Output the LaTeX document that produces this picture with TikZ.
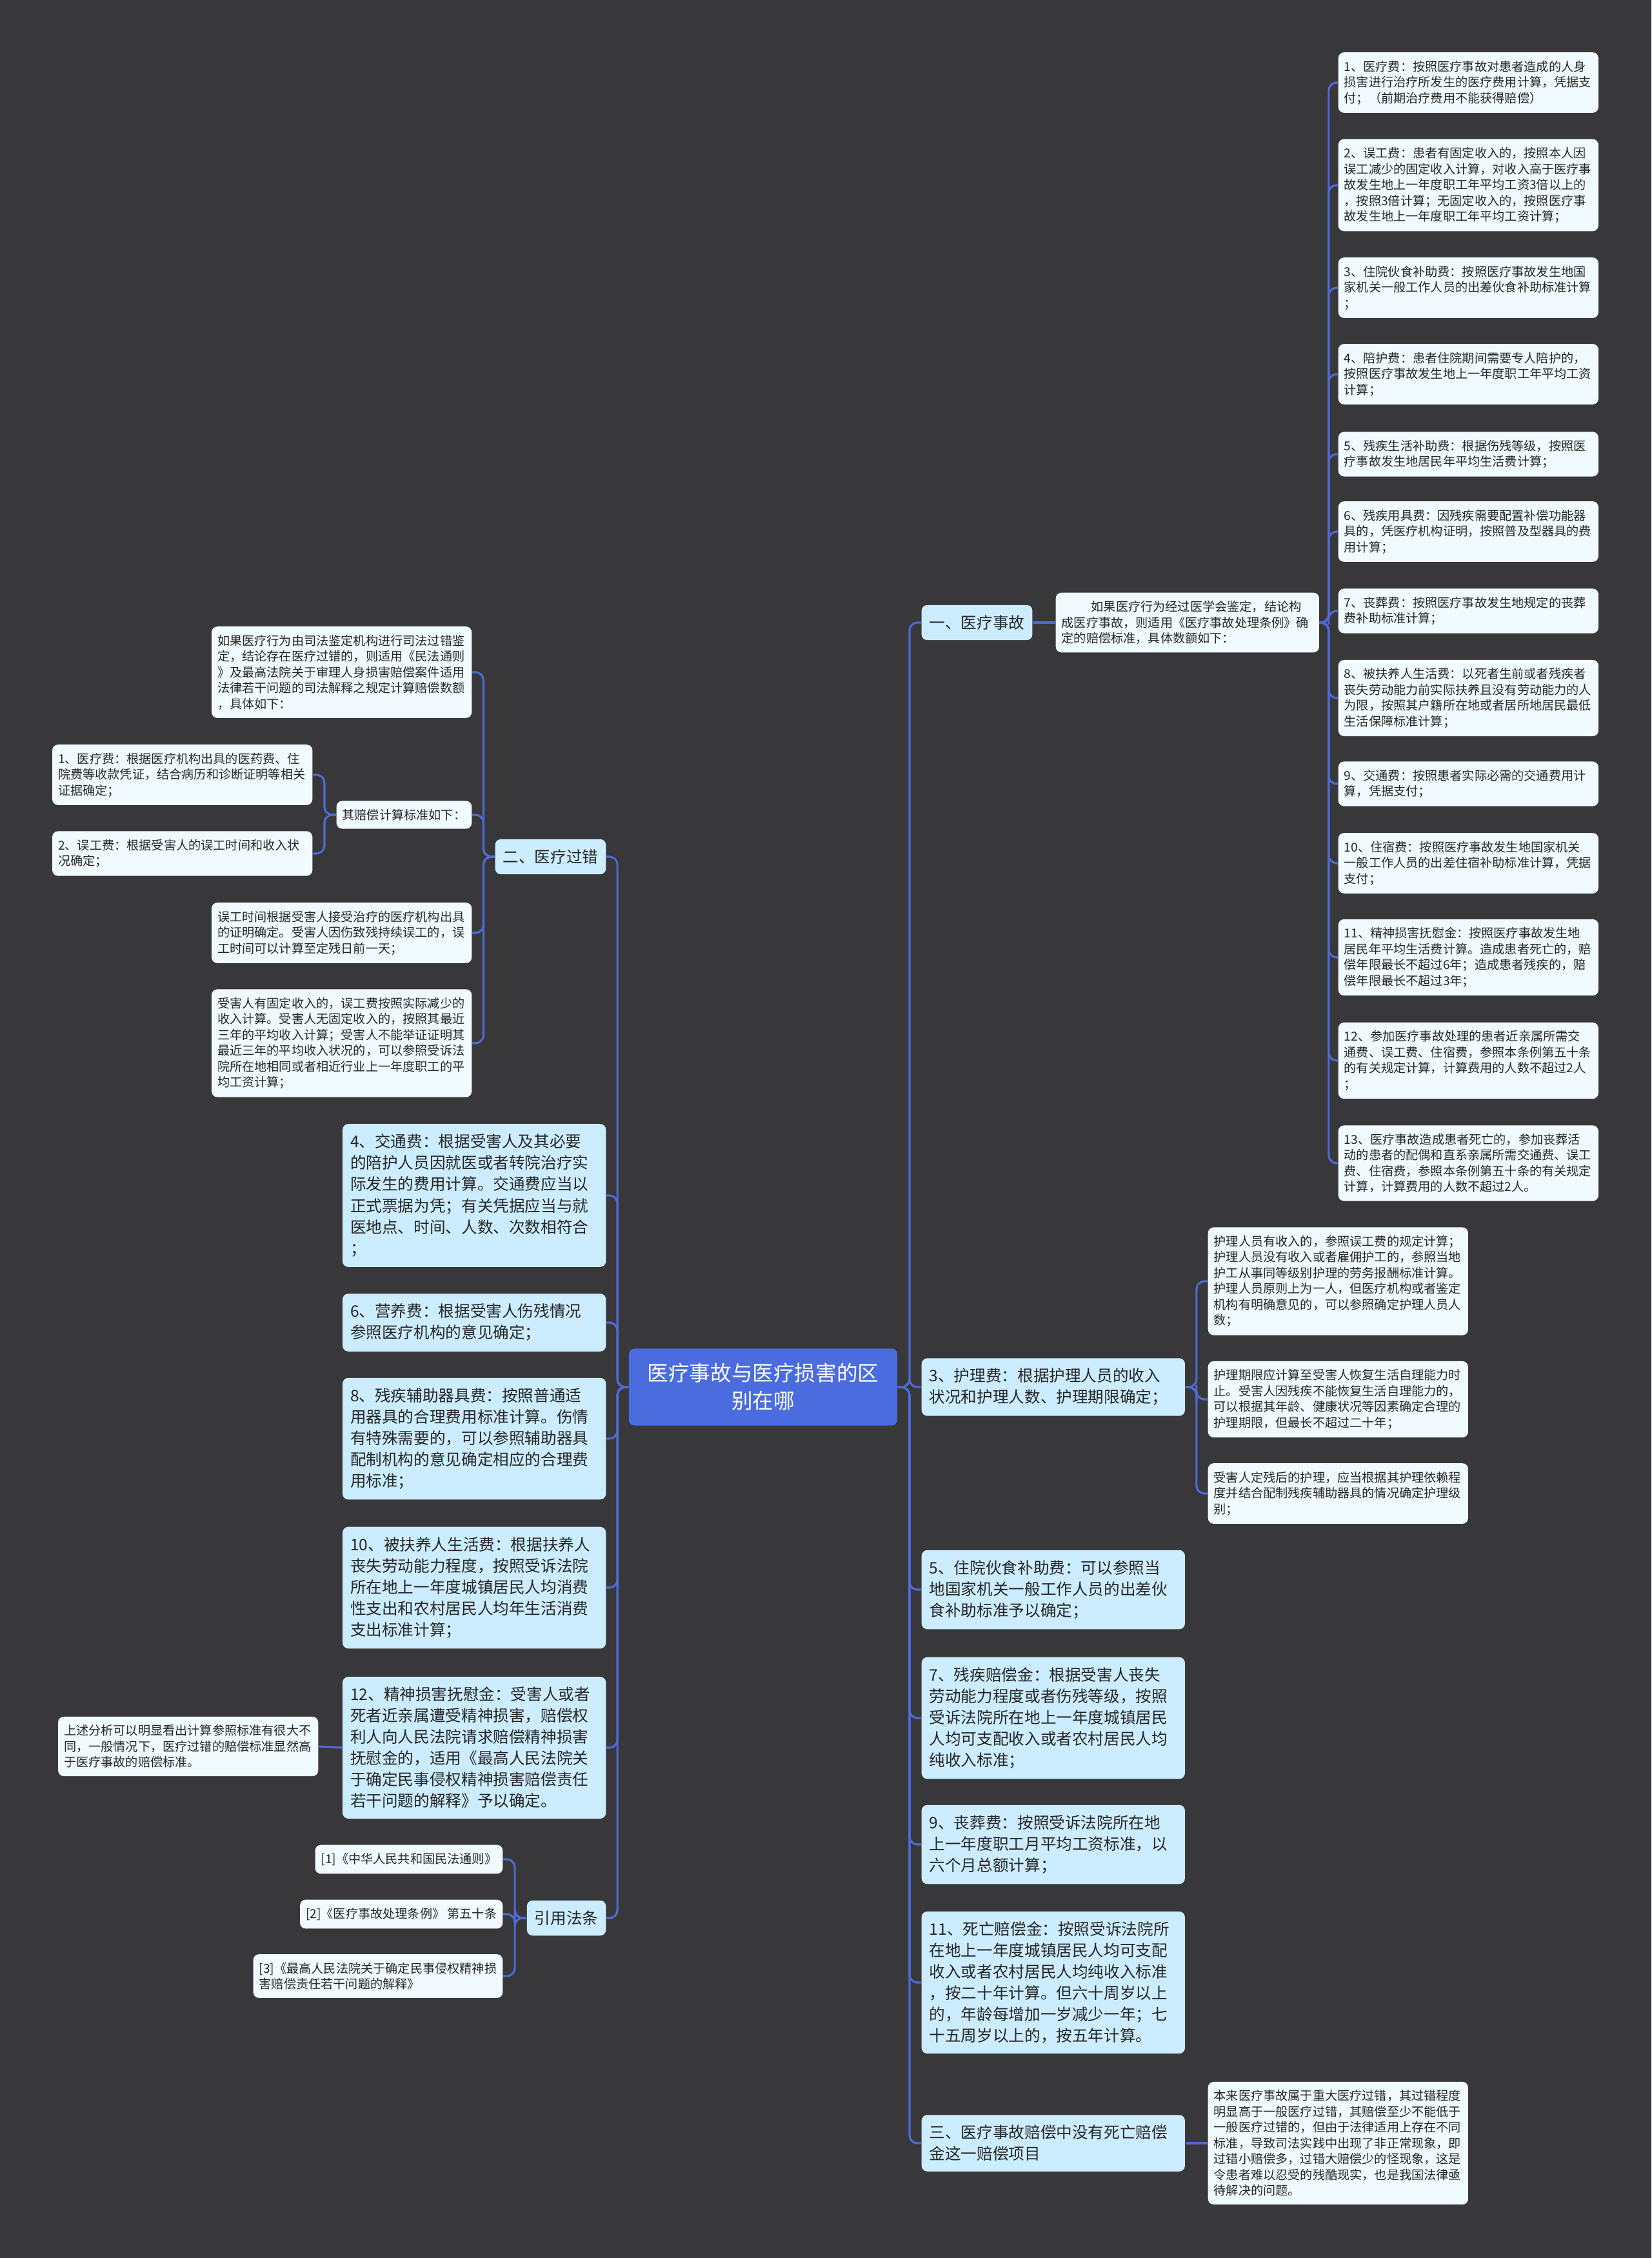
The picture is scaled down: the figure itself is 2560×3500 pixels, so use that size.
\documentclass[tikz,border=0pt]{standalone}
\usepackage{fontspec}
\setmainfont{Noto Sans CJK SC}
\usepackage{tikz}
\usetikzlibrary{calc}
\definecolor{mmbg}{RGB}{56,56,58}
\definecolor{mmroot}{RGB}{74,108,222}
\definecolor{mmtopic}{RGB}{204,237,255}
\definecolor{mmleaf}{RGB}{241,250,255}
\definecolor{mmline}{RGB}{78,106,214}
\definecolor{mmtext}{RGB}{38,38,38}
\tikzset{
  rootbox/.style={fill=mmroot, text=white, rounded corners=2.5pt, align=center, minimum width=4.16cm, minimum height=1.19cm, font=\fontsize{9.27pt}{12.2pt}\selectfont},
  topic/.style={fill=mmtopic, text=mmtext, rounded corners=2.5pt, inner xsep=3.41pt, inner ysep=4.5pt, font=\fontsize{7pt}{9.39pt}\selectfont},
  topicw/.style={topic, text width=3.84cm, align=left},
  leafbox/.style={fill=mmleaf, text=mmtext, rounded corners=2.5pt, inner xsep=2.56pt, inner ysep=3.6pt, font=\fontsize{5.45pt}{6.97pt}\selectfont},
  leafw/.style={leafbox, text width=3.85cm, align=left},
  link/.style={mmline, line width=0.9pt, rounded corners=3.5pt},
}
\begin{document}
\begin{tikzpicture}[x=0.01cm,y=-0.01cm]
  \fill[mmbg] (0,0) rectangle (2560,3500);
  \node[rootbox] (root) at (1183,2150) {医疗事故与医疗损害的区\\别在哪};

  % right side
  \node[topic, anchor=west] (acc) at (1428,965) {一、医疗事故};
  \node[topicw, anchor=west] (nurse) at (1428,2150) {3、护理费：根据护理人员的收入\\状况和护理人数、护理期限确定；};
  \node[topicw, anchor=west] (food) at (1428,2464) {5、住院伙食补助费：可以参照当\\地国家机关一般工作人员的出差伙\\食补助标准予以确定；};
  \node[topicw, anchor=west] (disab) at (1428,2663) {7、残疾赔偿金：根据受害人丧失\\劳动能力程度或者伤残等级，按照\\受诉法院所在地上一年度城镇居民\\人均可支配收入或者农村居民人均\\纯收入标准；};
  \node[topicw, anchor=west] (funer) at (1428,2859) {9、丧葬费：按照受诉法院所在地\\上一年度职工月平均工资标准，以\\六个月总额计算；};
  \node[topicw, anchor=west] (death) at (1428,3073) {11、死亡赔偿金：按照受诉法院所\\在地上一年度城镇居民人均可支配\\收入或者农村居民人均纯收入标准\\，按二十年计算。但六十周岁以上\\的，年龄每增加一岁减少一年；七\\十五周岁以上的，按五年计算。};
  \node[topicw, anchor=west] (third) at (1428,3322) {三、医疗事故赔偿中没有死亡赔偿\\金这一赔偿项目};
  \foreach \c in {acc,nurse,food,disab,funer,death,third}
    \draw[link] (root.east) -| ($(root.east)!.5!(\c.west)$) |- (\c.west);

  \node[leafw, text width=3.9cm, anchor=west] (accnote) at (1636,965) {\hspace*{2.4em}如果医疗行为经过医学会鉴定，结论构\\成医疗事故，则适用《医疗事故处理条例》确\\定的赔偿标准，具体数额如下：};
  \draw[link] (acc.east) -- (accnote.west);

  \node[leafw, anchor=west] (a1) at (2074,128) {1、医疗费：按照医疗事故对患者造成的人身\\损害进行治疗所发生的医疗费用计算，凭据支\\付；（前期治疗费用不能获得赔偿）};
  \node[leafw, anchor=west] (a2) at (2074,287) {2、误工费：患者有固定收入的，按照本人因\\误工减少的固定收入计算，对收入高于医疗事\\故发生地上一年度职工年平均工资3倍以上的\\，按照3倍计算；无固定收入的，按照医疗事\\故发生地上一年度职工年平均工资计算；};
  \node[leafw, anchor=west] (a3) at (2074,446) {3、住院伙食补助费：按照医疗事故发生地国\\家机关一般工作人员的出差伙食补助标准计算\\；};
  \node[leafw, anchor=west] (a4) at (2074,580) {4、陪护费：患者住院期间需要专人陪护的，\\按照医疗事故发生地上一年度职工年平均工资\\计算；};
  \node[leafw, anchor=west] (a5) at (2074,704) {5、残疾生活补助费：根据伤残等级，按照医\\疗事故发生地居民年平均生活费计算；};
  \node[leafw, anchor=west] (a6) at (2074,824) {6、残疾用具费：因残疾需要配置补偿功能器\\具的，凭医疗机构证明，按照普及型器具的费\\用计算；};
  \node[leafw, anchor=west] (a7) at (2074,947) {7、丧葬费：按照医疗事故发生地规定的丧葬\\费补助标准计算；};
  \node[leafw, anchor=west] (a8) at (2074,1082) {8、被扶养人生活费：以死者生前或者残疾者\\丧失劳动能力前实际扶养且没有劳动能力的人\\为限，按照其户籍所在地或者居所地居民最低\\生活保障标准计算；};
  \node[leafw, anchor=west] (a9) at (2074,1215) {9、交通费：按照患者实际必需的交通费用计\\算，凭据支付；};
  \node[leafw, anchor=west] (a10) at (2074,1338) {10、住宿费：按照医疗事故发生地国家机关\\一般工作人员的出差住宿补助标准计算，凭据\\支付；};
  \node[leafw, anchor=west] (a11) at (2074,1484) {11、精神损害抚慰金：按照医疗事故发生地\\居民年平均生活费计算。造成患者死亡的，赔\\偿年限最长不超过6年；造成患者残疾的，赔\\偿年限最长不超过3年；};
  \node[leafw, anchor=west] (a12) at (2074,1644) {12、参加医疗事故处理的患者近亲属所需交\\通费、误工费、住宿费，参照本条例第五十条\\的有关规定计算，计算费用的人数不超过2人\\；};
  \node[leafw, anchor=west] (a13) at (2074,1803) {13、医疗事故造成患者死亡的，参加丧葬活\\动的患者的配偶和直系亲属所需交通费、误工\\费、住宿费，参照本条例第五十条的有关规定\\计算，计算费用的人数不超过2人。};
  \foreach \c in {a1,a2,a3,a4,a5,a6,a7,a8,a9,a10,a11,a12,a13}
    \draw[link] (accnote.east) -| ($(accnote.east)!.5!(\c.west)$) |- (\c.west);

  \node[leafw, anchor=west] (n1) at (1872,1986) {护理人员有收入的，参照误工费的规定计算；\\护理人员没有收入或者雇佣护工的，参照当地\\护工从事同等级别护理的劳务报酬标准计算。\\护理人员原则上为一人，但医疗机构或者鉴定\\机构有明确意见的，可以参照确定护理人员人\\数；};
  \node[leafw, anchor=west] (n2) at (1872,2169) {护理期限应计算至受害人恢复生活自理能力时\\止。受害人因残疾不能恢复生活自理能力的，\\可以根据其年龄、健康状况等因素确定合理的\\护理期限，但最长不超过二十年；};
  \node[leafw, anchor=west] (n3) at (1872,2315) {受害人定残后的护理，应当根据其护理依赖程\\度并结合配制残疾辅助器具的情况确定护理级\\别；};
  \foreach \c in {n1,n2,n3}
    \draw[link] (nurse.east) -| ($(nurse.east)!.5!(\c.west)$) |- (\c.west);

  \node[leafw, anchor=west] (thirdnote) at (1872,3322) {本来医疗事故属于重大医疗过错，其过错程度\\明显高于一般医疗过错，其赔偿至少不能低于\\一般医疗过错的，但由于法律适用上存在不同\\标准，导致司法实践中出现了非正常现象，即\\过错小赔偿多，过错大赔偿少的怪现象，这是\\令患者难以忍受的残酷现实，也是我国法律亟\\待解决的问题。};
  \draw[link] (third.east) -- (thirdnote.west);

  % left side
  \node[topic, anchor=east] (fault) at (940,1328) {二、医疗过错};
  \node[topicw, anchor=east] (trans) at (940,1853) {4、交通费：根据受害人及其必要\\的陪护人员因就医或者转院治疗实\\际发生的费用计算。交通费应当以\\正式票据为凭；有关凭据应当与就\\医地点、时间、人数、次数相符合\\；};
  \node[topicw, anchor=east] (nutri) at (940,2050) {6、营养费：根据受害人伤残情况\\参照医疗机构的意见确定；};
  \node[topicw, anchor=east] (aids) at (940,2230) {8、残疾辅助器具费：按照普通适\\用器具的合理费用标准计算。伤情\\有特殊需要的，可以参照辅助器具\\配制机构的意见确定相应的合理费\\用标准；};
  \node[topicw, anchor=east] (depend) at (940,2461) {10、被扶养人生活费：根据扶养人\\丧失劳动能力程度，按照受诉法院\\所在地上一年度城镇居民人均消费\\性支出和农村居民人均年生活消费\\支出标准计算；};
  \node[topicw, anchor=east] (mental) at (940,2709) {12、精神损害抚慰金：受害人或者\\死者近亲属遭受精神损害，赔偿权\\利人向人民法院请求赔偿精神损害\\抚慰金的，适用《最高人民法院关\\于确定民事侵权精神损害赔偿责任\\若干问题的解释》予以确定。};
  \node[topic, anchor=east] (laws) at (940,2973) {引用法条};
  \foreach \c in {fault,trans,nutri,aids,depend,mental,laws}
    \draw[link] (root.west) -| ($(root.west)!.5!(\c.east)$) |- (\c.east);

  \node[leafw, anchor=east] (f1) at (732,1042) {如果医疗行为由司法鉴定机构进行司法过错鉴\\定，结论存在医疗过错的，则适用《民法通则\\》及最高法院关于审理人身损害赔偿案件适用\\法律若干问题的司法解释之规定计算赔偿数额\\，具体如下：};
  \node[leafbox, anchor=east] (f2) at (732,1263) {其赔偿计算标准如下：};
  \node[leafw, anchor=east] (f3) at (732,1446) {误工时间根据受害人接受治疗的医疗机构出具\\的证明确定。受害人因伤致残持续误工的，误\\工时间可以计算至定残日前一天；};
  \node[leafw, anchor=east] (f4) at (732,1617) {受害人有固定收入的，误工费按照实际减少的\\收入计算。受害人无固定收入的，按照其最近\\三年的平均收入计算；受害人不能举证证明其\\最近三年的平均收入状况的，可以参照受诉法\\院所在地相同或者相近行业上一年度职工的平\\均工资计算；};
  \foreach \c in {f1,f2,f3,f4}
    \draw[link] (fault.west) -| ($(fault.west)!.5!(\c.east)$) |- (\c.east);

  \node[leafw, anchor=east] (s1) at (485,1201) {1、医疗费：根据医疗机构出具的医药费、住\\院费等收款凭证，结合病历和诊断证明等相关\\证据确定；};
  \node[leafw, anchor=east] (s2) at (485,1323) {2、误工费：根据受害人的误工时间和收入状\\况确定；};
  \foreach \c in {s1,s2}
    \draw[link] (f2.west) -| ($(f2.west)!.5!(\c.east)$) |- (\c.east);

  \node[leafw, anchor=east] (summary) at (494,2707) {上述分析可以明显看出计算参照标准有很大不\\同，一般情况下，医疗过错的赔偿标准显然高\\于医疗事故的赔偿标准。};
  \draw[link] (mental.west) -- (summary.east);

  \node[leafbox, anchor=east] (l1) at (780,2882) {[1]《中华人民共和国民法通则》};
  \node[leafbox, anchor=east] (l2) at (780,2967) {[2]《医疗事故处理条例》 第五十条};
  \node[leafbox, anchor=east, align=left] (l3) at (780,3063) {[3]《最高人民法院关于确定民事侵权精神损\\害赔偿责任若干问题的解释》};
  \foreach \c in {l1,l2,l3}
    \draw[link] (laws.west) -| ($(laws.west)!.5!(\c.east)$) |- (\c.east);
\end{tikzpicture}
\end{document}
